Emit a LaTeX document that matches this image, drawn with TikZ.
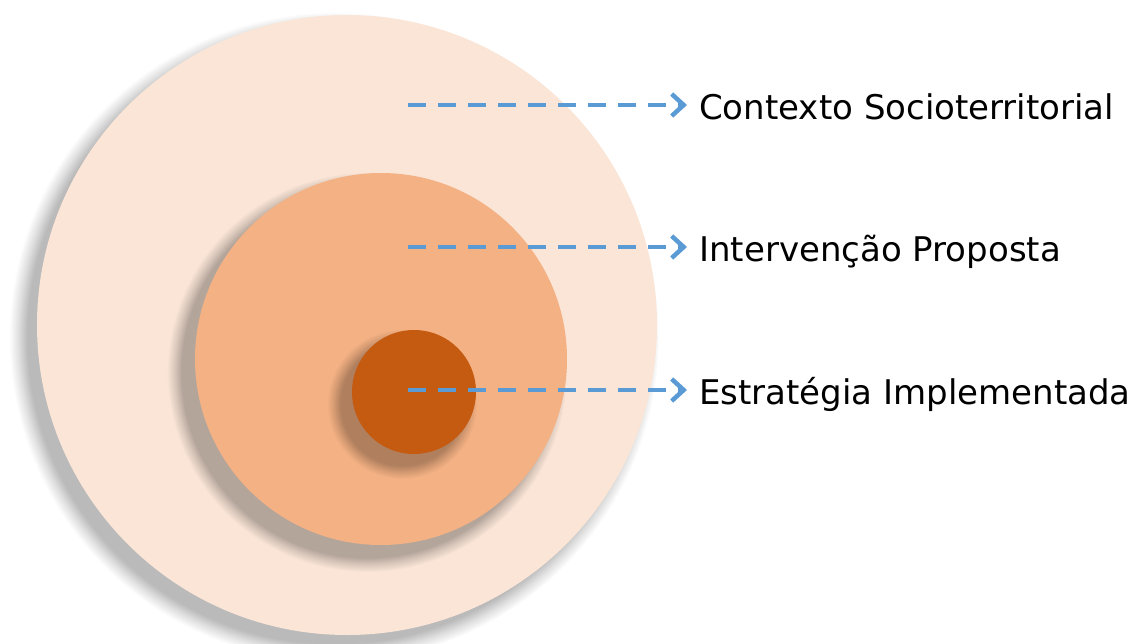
\documentclass[tikz,border=0pt]{standalone}
\usepackage{fontspec}
\setmainfont{DejaVu Sans}
\usetikzlibrary{arrows.meta}
\definecolor{outerring}{HTML}{FAE5D7}
\definecolor{middlering}{HTML}{F4B183}
\definecolor{innerring}{HTML}{C55A11}
\definecolor{arrowblue}{HTML}{5B9BD5}
\colorlet{ctxdark}{black!27}
\colorlet{propdark}{outerring!72!black}
\colorlet{estrdark}{middlering!72!black}
% soft edged shadows, dark inside, fading to what lies below
\pgfdeclareradialshading{ctxshadow}{\pgfpointorigin}{color(0bp)=(ctxdark); color(23.6bp)=(ctxdark); color(24.3bp)=(ctxdark!45!white); color(25bp)=(white); color(50bp)=(white)}
\pgfdeclareradialshading{propshadow}{\pgfpointorigin}{color(0bp)=(propdark); color(23.2bp)=(propdark); color(24.1bp)=(propdark!45!outerring); color(25bp)=(outerring); color(50bp)=(outerring)}
\pgfdeclareradialshading{estrshadow}{\pgfpointorigin}{color(0bp)=(estrdark); color(20.5bp)=(estrdark); color(22.8bp)=(estrdark!45!middlering); color(25bp)=(middlering); color(50bp)=(middlering)}
\tikzset{
  ring/.style={circle,inner sep=0pt,draw=none},
  tag/.style={anchor=west,inner sep=0pt,text height=29pt,text depth=0pt,
    font=\fontsize{34}{40}\selectfont},
  pointer/.style={arrowblue,line width=4.5pt,dash pattern=on 18pt off 12pt,
    -{Straight Barb[length=12pt,width=22pt,line width=4.5pt]}}
}
\begin{document}
\begin{tikzpicture}[x=1pt,y=-1pt]
      \useasboundingbox (0,0) rectangle (1135,643);
      \shade[shading=ctxshadow] (334,337) circle (325pt);
      \node[ring,fill=outerring,minimum size=620pt] (ctx) at (347,325) {};
      \shade[shading=propshadow] (367,372) circle (200pt);
      \node[ring,fill=middlering,minimum size=372pt] (prop) at (381,359) {};
      \shade[shading=estrshadow] (402,404) circle (75pt);
      \node[ring,fill=innerring,minimum size=124pt] (estr) at (414,392) {};
      \draw
        (408,105) coordinate (sctx)
        (408,247) coordinate (sprop)
        (408,390) coordinate (sestr)
        (699,105) node[tag] (lctx){Contexto Socioterritorial}
        (699,247) node[tag] (lprop){Intervenção Proposta}
        (699,390) node[tag] (lestr){Estratégia Implementada};
      \begin{scope}[pointer,shorten >=12pt]
        \draw (sctx) to (lctx.west);
        \draw (sprop) to (lprop.west);
        \draw (sestr) to (lestr.west);
      \end{scope}
    \end{tikzpicture}
\end{document}
